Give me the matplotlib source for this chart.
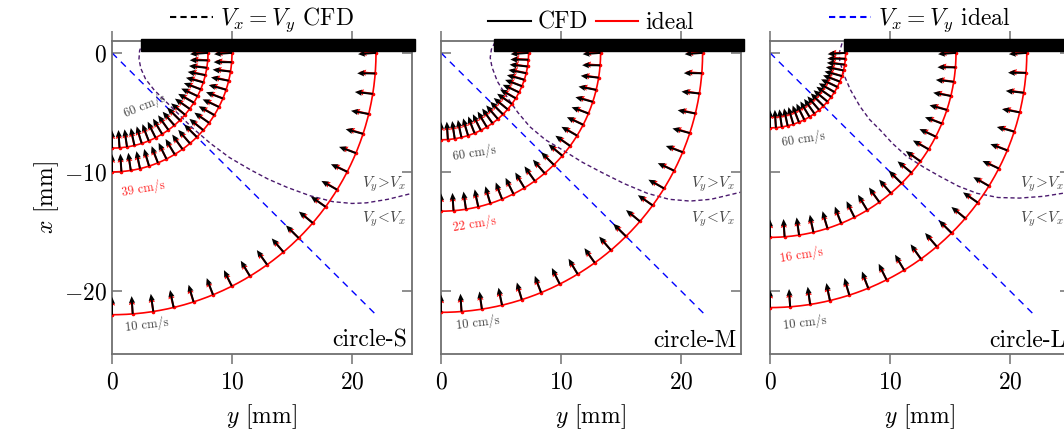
import numpy as np
import matplotlib.pyplot as plt
from matplotlib.patches import Rectangle
from matplotlib.lines import Line2D

plt.rcParams['font.family'] = 'serif'
plt.rcParams['font.serif'] = ['cmr10']
plt.rcParams['mathtext.fontset'] = 'cm'
plt.rcParams['axes.formatter.use_mathtext'] = True

# data
names = ['circle-S', 'circle-M', 'circle-L']
radii = [[8.0, 10.0, 22.0], [7.3, 13.3, 21.8], [6.3, 15.5, 21.4]]
speeds = [[60, 39, 10], [60, 22, 10], [60, 16, 10]]
wall_start = [2.4, 4.4, 6.2]
n_arrows = 21
# small angle offsets (deg) of CFD arrows vs ideal, from top to side
cfd_dev = [4, 4, 3, 3, 3, 2, 2, 2, 1, 1, 0, 0, -1, -1, -1, -2, -2, -2, -1, -1, 0]

cfd_y = [
    [2.6, 2.3, 2.25, 2.4, 2.8, 3.5, 4.4, 5.4, 6.7, 8.2, 9.8, 11.5, 13.0, 14.6,
     16.5, 18.4, 20.0, 21.2, 23.0, 25.0],
    [4.5, 4.2, 4.1, 4.25, 4.7, 5.5, 6.4, 7.4, 8.7, 10.2, 11.8, 13.5, 15.3, 17.2,
     19.0, 20.75, 22.5, 25.0],
    [6.0, 5.8, 5.8, 6.1, 6.7, 7.5, 8.3, 9.2, 10.2, 11.4, 12.8, 14.2, 15.7, 17.25,
     19.0, 20.8, 22.8, 25.0],
]
cfd_x = [
    [0.9, 0.2, -0.5, -1.3, -2.2, -3.1, -4.0, -5.0, -6.3, -7.6, -8.8, -9.8, -10.6, -11.3,
     -12.0, -12.5, -12.65, -12.6, -12.3, -11.8],
    [0.9, 0.3, -0.4, -1.2, -2.4, -3.7, -5.0, -6.2, -7.3, -8.2, -9.2, -10.1, -11.0, -11.8,
     -12.3, -12.45, -12.3, -11.7],
    [0.8, 0.1, -0.6, -1.7, -3.1, -4.5, -5.6, -6.5, -7.6, -8.7, -9.6, -10.4, -11.2, -11.8,
     -12.15, -12.2, -12.05, -11.7],
]
ideal_end = 22.0

# label placement (layout only)
label_xy = [
    [(2.7, -4.4, 22), (2.6, -11.4, 10), (2.9, -22.8, 7)],
    [(2.8, -8.4, 9), (2.8, -14.4, 9), (3.1, -22.7, 7)],
    [(2.8, -7.2, 9), (2.6, -17.0, 9), (2.9, -22.7, 7)],
]

fig = plt.figure(figsize=(10.64, 4.41), dpi=100)
lefts = [112, 441, 770]
gray = '#707070'
arrow_kw = dict(angles='xy', scale_units='xy', scale=1, width=0.0065,
                headwidth=3.2, headlength=3.6, headaxislength=3.2)

for k in range(3):
    ax = fig.add_axes([lefts[k] / 1064, 1 - 354 / 441, 300 / 1064, 313 / 441])
    ax.set_xlim(0, 25)
    ax.set_ylim(-25.3, 1.0)

    # circles and arrows
    phi = np.linspace(0, np.pi / 2, n_arrows)
    phic = np.linspace(0, np.pi / 2, 200)
    dev = np.radians(cfd_dev)
    for r in radii[k]:
        ax.plot(r * np.cos(phic), -r * np.sin(phic), color='red', lw=1.2, zorder=3)
        py = r * np.cos(phi)
        px = -r * np.sin(phi)
        ang = np.arctan2(np.sin(phi), -np.cos(phi))
        ax.quiver(py, px, 1.35 * np.cos(ang), 1.35 * np.sin(ang), color='red',
                  zorder=4, **arrow_kw)
        ax.quiver(py, px, 1.5 * np.cos(ang + dev), 1.5 * np.sin(ang + dev), color='black',
                  zorder=5, **arrow_kw)
        ax.plot(py, px, 'o', color='red', ms=1.6, zorder=4)

    # V_x = V_y lines
    ax.plot(cfd_y[k], cfd_x[k], color='#4b1a6e', lw=1.0, dashes=(3, 2), zorder=2)
    ax.plot([0, ideal_end], [0, -ideal_end], color='blue', lw=1.0, dashes=(5, 4), zorder=2)

    # wall
    ax.add_patch(Rectangle((wall_start[k], 0.2), 25.25 - wall_start[k], 0.98,
                           color='black', clip_on=False, zorder=6))

    for (ty, tx, rot), v, c in zip(label_xy[k], speeds[k], ['#444444', 'red', '#444444']):
        ax.text(ty, tx, f'{v} cm/s', fontsize=9, color=c, rotation=rot,
                ha='center', va='center', zorder=7, alpha=0.85 if c == 'red' else 1)

    ax.text(22.7, -11.0, r'$V_y\!>\!V_x$', fontsize=11, color='#444444', ha='center', va='center')
    ax.text(22.7, -14.0, r'$V_y\!<\!V_x$', fontsize=11, color='#444444', ha='center', va='center')
    ax.text(24.6, -24.2, names[k], fontsize=17, ha='right', va='center')

    for s in ax.spines.values():
        s.set_color(gray)
        s.set_linewidth(1.3)
    ax.set_xticks([0, 10, 20])
    ax.set_yticks([0, -10, -20])
    ax.tick_params(axis='x', direction='out', top=True, length=7.5, width=1.1,
                   color=gray, labelsize=17, pad=5)
    ax.tick_params(axis='y', direction='in', right=True, length=7.5, width=1.1,
                   color=gray, labelsize=17)
    ax.set_xlabel('$y$ [mm]', fontsize=17, labelpad=6)
    if k == 0:
        ax.set_ylabel('$x$ [mm]', fontsize=17, labelpad=2)
    else:
        ax.set_yticklabels([])

    if k == 0:
        handles = [Line2D([], [], color='black', lw=1.5, dashes=(3, 2))]
        labels = ['$V_x = V_y$ CFD']
    elif k == 1:
        handles = [Line2D([], [], color='black', lw=1.5), Line2D([], [], color='red', lw=1.5)]
        labels = ['CFD', 'ideal']
    else:
        handles = [Line2D([], [], color='blue', lw=1.5, dashes=(3, 2))]
        labels = ['$V_x = V_y$ ideal']
    ax.legend(handles, labels, loc='lower center', bbox_to_anchor=(0.5, 1.0),
              ncol=len(handles), frameon=False, fontsize=17, handlelength=1.8,
              handletextpad=0.3, columnspacing=0.3, borderaxespad=0.1, borderpad=0.2)

fig.savefig('out.png', dpi=100)
